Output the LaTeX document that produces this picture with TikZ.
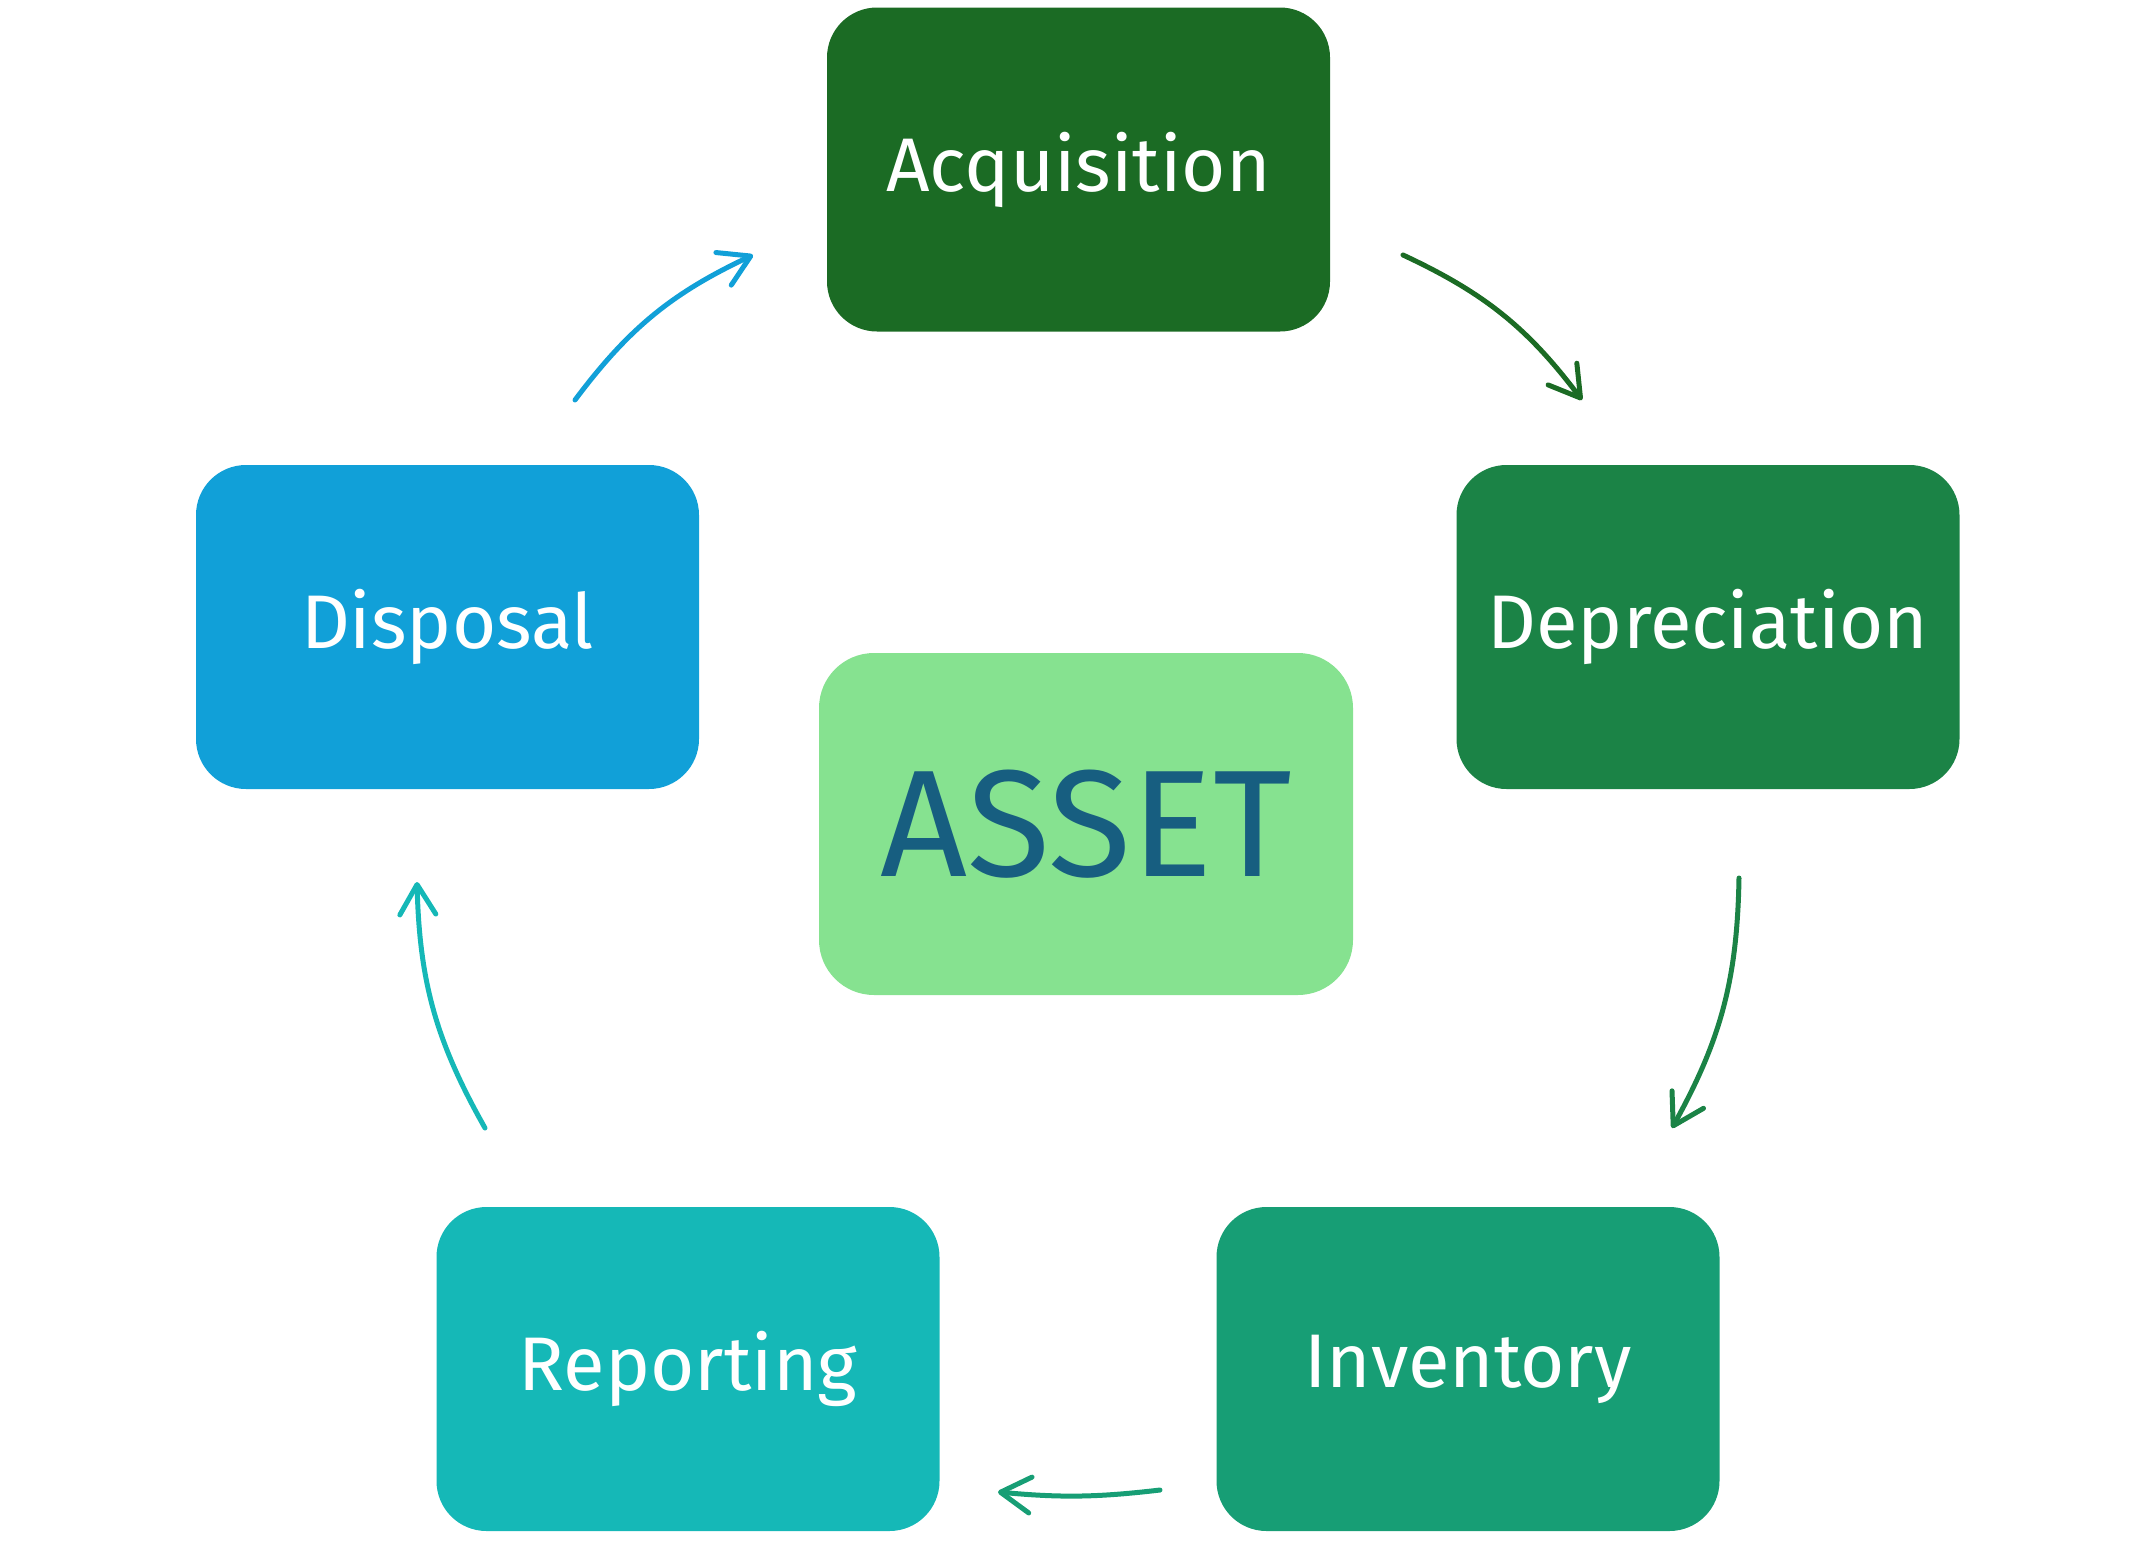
\documentclass[tikz,border=0pt]{standalone}
\usepackage{fontspec}
\setmainfont{Fira Sans}
\usetikzlibrary{arrows.meta}

\definecolor{acqgreen}{HTML}{1B6B24}
\definecolor{depgreen}{HTML}{1B8346}
\definecolor{invgreen}{HTML}{179E75}
\definecolor{repteal}{HTML}{15B8B7}
\definecolor{disblue}{HTML}{11A0D8}
\definecolor{assetfill}{HTML}{86E290}
\definecolor{assettext}{HTML}{175E80}

\tikzset{
  stage/.style={rectangle, rounded corners=50pt, minimum width=503pt, minimum height=324pt,
    inner sep=0pt, text=white, font=\fontsize{76}{90}\selectfont},
  cycle/.style={line width=5pt, line cap=round, bend left=#1,
    -{Straight Barb[length=30pt, width=36pt, line join=round, line cap=round]}},
}

\begin{document}
\begin{tikzpicture}[x=1pt, y=-1pt]
			%%%%% START %%%%%
			
			\useasboundingbox (0, 0) rectangle (2156, 1558);
			
			\node[stage, fill=acqgreen] (acq) at (1078.5, 169.5) {Acquisition};
			\node[stage, fill=depgreen] (dep) at (1708, 627) {Depreciation};
			\node[stage, fill=invgreen] (inv) at (1468, 1369) {Inventory};
			\node[stage, fill=repteal] (rep) at (688, 1369) {Reporting};
			\node[stage, fill=disblue] (dis) at (447.5, 627) {Disposal};
			
			\node[rectangle, rounded corners=55pt, minimum width=534pt, minimum height=342pt,
				fill=assetfill, text=assettext, font=\fontsize{152}{170}\selectfont] (asset) at (1086, 824) {ASSET};
			
			% arrow ends
			\coordinate (a1) at (1403, 255);
			\coordinate (b1) at (1582, 400);
			\coordinate (a2) at (1739, 878);
			\coordinate (b2) at (1672, 1128);
			\coordinate (a3) at (1160, 1490);
			\coordinate (b3) at (998, 1492);
			\coordinate (a4) at (485, 1128);
			\coordinate (b4) at (417, 882);
			\coordinate (a5) at (575, 400);
			\coordinate (b5) at (753, 255);
			
			\draw[cycle=14, acqgreen] (a1) to (b1);
			\draw[cycle=14, depgreen] (a2) to (b2);
			\draw[cycle=6, invgreen] (a3) to (b3);
			\draw[cycle=14, repteal] (a4) to (b4);
			\draw[cycle=14, disblue] (a5) to (b5);
			
			%%%%% END %%%%%
\end{tikzpicture}
\end{document}
